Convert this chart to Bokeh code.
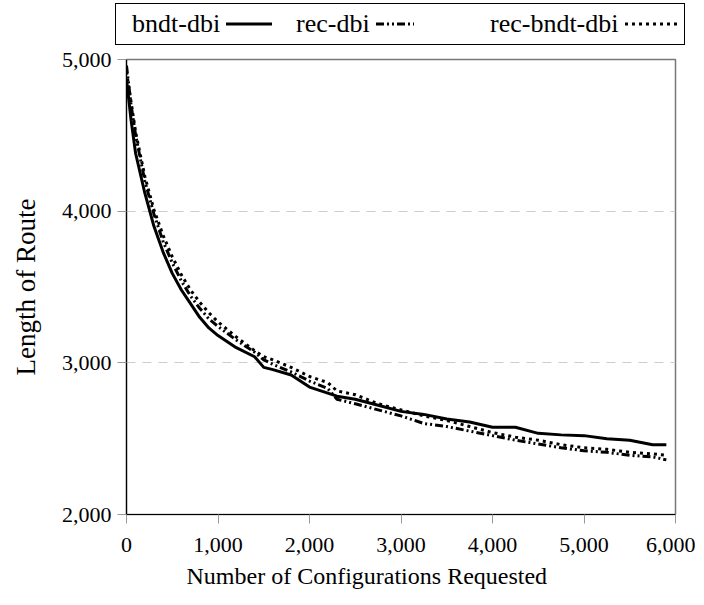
from bokeh.plotting import figure
from bokeh.layouts import column
from bokeh.models import NumeralTickFormatter, FixedTicker, Range1d, Div, Title
from bokeh.embed import file_html
from bokeh.resources import INLINE

x_vals = [0, 50, 100, 200, 300, 400, 500, 600, 700, 800, 900, 1000, 1200, 1400, 1500, 1600,
          1800, 2000, 2200, 2300, 2500, 2750, 3000, 3250, 3500, 3750, 4000, 4250, 4500, 4750,
          5000, 5250, 5500, 5750, 5900]
bndt_dbi = [4870, 4600, 4380, 4120, 3900, 3730, 3590, 3480, 3390, 3300, 3230, 3180, 3100, 3040, 2970, 2955,
            2920, 2840, 2800, 2780, 2760, 2720, 2680, 2660, 2630, 2610, 2575, 2575, 2535, 2525,
            2520, 2500, 2490, 2460, 2460]
rec_dbi = [4960, 4700, 4500, 4200, 3980, 3800, 3660, 3540, 3440, 3360, 3290, 3240, 3150, 3070, 3020, 2990,
           2940, 2880, 2830, 2760, 2730, 2690, 2650, 2600, 2580, 2550, 2520, 2490, 2465, 2440,
           2420, 2410, 2390, 2380, 2360]
rec_bndt_dbi = [4920, 4720, 4520, 4230, 4010, 3840, 3700, 3580, 3480, 3400, 3330, 3270, 3170, 3080, 3040, 3020,
                2970, 2910, 2870, 2815, 2790, 2730, 2690, 2650, 2620, 2580, 2540, 2510, 2490, 2460,
                2440, 2430, 2410, 2400, 2390]
series_names = ["bndt-dbi", "rec-dbi", "rec-bndt-dbi"]

x_ticks = [0, 1000, 2000, 3000, 4000, 5000, 6000]
y_ticks = [2000, 3000, 4000, 5000]
x_label = "Number of Configurations Requested"
y_label = "Length of Route"

FONT = "Liberation Serif"
dashes = ["solid", "8 3 2 3 2 3", "3 4"]

p = figure(width=695, height=549, output_backend="svg", toolbar_location=None,
           x_range=Range1d(0, 6000), y_range=Range1d(2000, 5000),
           min_border_left=126, min_border_right=20, min_border_top=13, min_border_bottom=80)

for ys, d in zip([bndt_dbi, rec_dbi, rec_bndt_dbi], dashes):
    p.line(x_vals, ys, line_color="black", line_width=3, line_dash=d)

for ax, ticks in ((p.xaxis, x_ticks), (p.yaxis, y_ticks)):
    ax.ticker = FixedTicker(ticks=ticks)
    ax.formatter = NumeralTickFormatter(format="0,0")
    ax.axis_line_color = "black"
    ax.axis_line_width = 1.2
    ax.major_tick_line_color = "#999999"
    ax.major_tick_in = 0
    ax.major_tick_out = 9
    ax.minor_tick_line_color = None
    ax.major_label_text_font = FONT
    ax.major_label_text_font_size = "22px"
    ax.major_label_text_color = "black"
    ax.axis_label_text_font = FONT
    ax.axis_label_text_font_style = "normal"
    ax.axis_label_text_color = "black"

p.yaxis.axis_label = y_label
p.yaxis.axis_label_text_font_size = "27px"
p.xaxis.major_label_standoff = 14
p.yaxis.major_label_standoff = 6
p.yaxis.axis_label_standoff = 18

# x-axis title, set a little left of centre as in the reference
p.add_layout(Title(text=x_label, align="left", offset=60, text_font=FONT,
                   text_font_size="24px", text_font_style="normal", text_color="black",
                   standoff=13), "below")

p.xgrid.grid_line_color = None
p.ygrid.grid_line_color = "#cccccc"
p.ygrid.grid_line_dash = "9 7"
p.ygrid.grid_line_width = 1.2
p.outline_line_color = "#777777"
p.outline_line_width = 1.5

# legend strip (label first, then line sample, as in the reference)
label_left = [16, 180, 374]
sample_w = [46, 38, 56]
parts = []
for name, d, lx, sw in zip(series_names, dashes, label_left, sample_w):
    da = "" if d == "solid" else f' stroke-dasharray="{d}"'
    parts.append(
        f'<span style="position:absolute;left:{lx}px;top:0;height:40px;display:flex;align-items:center;'
        f'white-space:nowrap;">{name}'
        f'<svg width="{sw}" height="10" style="margin-left:6px"><line x1="0" y1="5" x2="{sw}" y2="5" '
        f'stroke="black" stroke-width="3"{da}/></svg></span>')
html = (f'<div style="position:relative;top:3px;margin-left:115px;width:570px;height:42px;'
        f'box-sizing:border-box;border:1.2px solid black;font-family:\'{FONT}\';font-size:26px;'
        f'color:black;line-height:1;">' + "".join(parts) + '</div>')
legend_div = Div(text=html, width=695, height=46, margin=0)

open("out.html", "w").write(file_html(column(legend_div, p, spacing=0), INLINE))
